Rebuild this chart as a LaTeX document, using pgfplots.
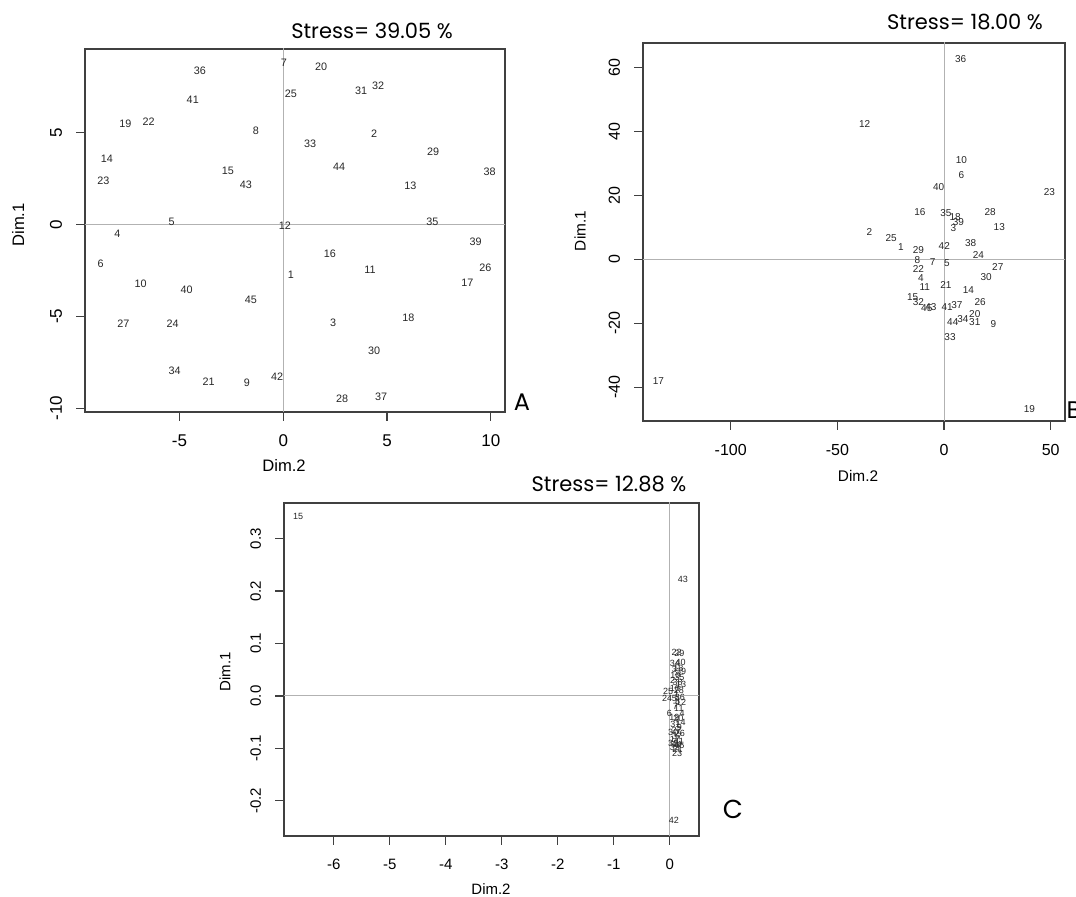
\documentclass[border=0pt]{standalone}
\usepackage{fontspec}
\setmainfont{Liberation Sans}
\newfontfamily\gothic{Poppins}
\usepackage{pgfplots}
\pgfplotsset{compat=1.18}

% page = 1076 x 897 px at 0.5pt per px
\pgfplotsset{
  mds/.style={
    scale only axis,
    axis line style={draw=black!75, line width=0.65pt},
    tick align=outside,
    major tick length=4.5pt,
    every tick/.style={draw=black!75, line width=0.6pt},
    xtick pos=left, ytick pos=left,
    /pgf/number format/assume math mode=true,
    xticklabel style={anchor=north},
    yticklabel style={rotate=90, anchor=south},
    xticklabel shift=3.5pt, yticklabel shift=3.5pt,
  },
  lbl/.style={
    only marks, mark=*, mark size=0pt, mark options={draw=none, fill=none},
    point meta=explicit symbolic,
    nodes near coords, nodes near coords align=center,
    every node near coord/.append style={font=#1, inner sep=0pt, text=black!85},
  },
  zero/.style={black!30, line width=0.5pt, forget plot},
}

\begin{document}
\begin{tikzpicture}

% ---------------- A ----------------
\begin{axis}[mds,
    at={(42.5pt,242.5pt)}, anchor=south west,
    width=210pt, height=181.5pt,
    xmin=-9.55, xmax=10.68, ymin=-10.2, ymax=9.53,
    xtick={-5,0,5,10}, ytick={-10,-5,0,5},
    ticklabel style={font=\fontsize{8.5}{10}\selectfont},
]
\addplot[zero] coordinates {(0,-20)(0,20)};
\addplot[zero] coordinates {(-20,0)(20,0)};
\addplot[lbl={\fontsize{5.4}{6}\selectfont}] table[meta=l] {
x y l
-4.02 8.33 36
0.03 8.77 7
1.82 8.55 20
0.37 7.08 25
3.75 7.24 31
4.57 7.52 32
-4.36 6.75 41
-7.60 5.44 19
-6.49 5.55 22
-1.32 5.10 8
4.38 4.90 2
1.29 4.36 33
7.22 3.93 29
-2.67 2.90 15
2.69 3.11 44
-8.50 3.55 14
-1.80 2.14 43
-8.66 2.35 23
9.94 2.84 38
6.12 2.08 13
-5.38 0.12 5
0.08 -0.05 12
7.18 0.12 35
-7.99 -0.53 4
9.26 -0.96 39
2.25 -1.62 16
-8.80 -2.16 6
0.37 -2.76 1
4.18 -2.48 11
9.74 -2.38 26
8.87 -3.20 17
-6.87 -3.24 10
-4.65 -3.57 40
-1.56 -4.11 45
6.03 -5.10 18
-7.70 -5.40 27
-5.33 -5.40 24
2.40 -5.36 3
4.38 -6.88 30
-5.23 -7.95 34
-3.59 -8.55 21
-1.75 -8.60 9
-0.30 -8.29 42
2.83 -9.49 28
4.71 -9.39 37
};
\end{axis}

% ---------------- B ----------------
\begin{axis}[mds,
    at={(321.5pt,238pt)}, anchor=south west,
    width=211pt, height=189pt,
    xmin=-141.1, xmax=56.7, ymin=-50.5, ymax=67.6,
    xtick={-100,-50,0,50}, ytick={-40,-20,0,20,40,60},
    ticklabel style={font=\fontsize{8}{10}\selectfont},
]
\addplot[zero] coordinates {(0,-100)(0,100)};
\addplot[zero] coordinates {(-200,0)(100,0)};
\addplot[lbl={\fontsize{5}{6}\selectfont}] table[meta=l] {
x y l
7.8 62.7 36
-37.2 42.2 12
8.1 31.0 10
8.1 26.4 6
-2.5 22.7 40
49.4 20.9 23
-11.3 14.7 16
0.9 14.4 35
5.2 13.1 18
6.7 11.6 39
4.4 9.7 3
21.6 14.9 28
25.9 10.1 13
-35.0 8.6 2
-24.8 6.6 25
-20.2 3.9 1
-12.0 2.9 29
0.1 4.3 42
12.5 5.0 38
16.1 1.25 24
-12.5 -0.2 8
-5.3 -0.75 7
1.3 -1.25 5
-12.0 -3.0 22
25.2 -2.5 27
19.7 -5.4 30
-10.9 -5.75 4
0.9 -8.0 21
-9.0 -8.75 11
11.4 -9.6 14
-14.7 -11.9 15
-12.0 -13.4 32
16.9 -13.25 26
-6.2 -14.8 43
-8.1 -15.3 45
1.5 -14.8 41
6.0 -14.3 37
14.4 -17.1 20
8.8 -18.75 34
14.4 -19.5 31
4.1 -19.7 44
23.1 -20.3 9
2.8 -24.2 33
40.0 -46.7 19
-133.9 -38.0 17
};
\end{axis}

% ---------------- C ----------------
\begin{axis}[mds,
    at={(142pt,30.5pt)}, anchor=south west,
    width=207.5pt, height=166.5pt,
    xmin=-6.89, xmax=0.52, ymin=-0.267, ymax=0.368,
    xtick={-6,-5,-4,-3,-2,-1,0}, ytick={-0.2,-0.1,0,0.1,0.2,0.3},
    ticklabel style={font=\fontsize{7.5}{9}\selectfont},
    yticklabel style={/pgf/number format/.cd, fixed, fixed zerofill, precision=1},
]
\addplot[zero] coordinates {(0,-1)(0,1)};
\addplot[zero] coordinates {(-10,0)(2,0)};
\addplot[lbl={\fontsize{4.5}{5}\selectfont}] table[meta=l] {
x y l
-6.64 0.343 15
0.23 0.223 43
0.07 -0.238 42
0.13 -0.110 23
0.12 0.083 22
0.17 0.081 29
0.09 0.062 34
0.19 0.064 40
0.08 0.050 3
0.15 0.052 18
0.20 0.047 39
0.10 0.040 10
0.17 0.036 35
0.05 0.030 2
0.14 0.025 38
0.20 0.022 13
0.09 0.015 16
0.16 0.011 28
-0.03 0.008 25
0.12 0.003 1
0.18 -0.002 36
-0.05 -0.005 24
0.08 -0.004 5
0.14 -0.010 8
0.20 -0.012 12
0.10 -0.020 7
0.16 -0.024 11
-0.01 -0.034 6
0.22 -0.033 4
0.08 -0.040 19
0.15 -0.042 20
0.19 -0.050 14
0.10 -0.055 31
0.17 -0.060 9
0.12 -0.066 27
0.06 -0.070 30
0.18 -0.072 26
0.13 -0.078 37
0.09 -0.083 17
0.16 -0.086 41
0.06 -0.090 32
0.12 -0.092 44
0.17 -0.095 45
0.09 -0.099 33
0.14 -0.102 21
};
\end{axis}

% titles, axis names and panel letters
\node[font=\gothic\fontsize{10.5}{12}\selectfont] at (186pt,433pt) {Stress= 39.05 \%};
\node[font=\gothic\fontsize{10.5}{12}\selectfont] at (482.5pt,437.5pt) {Stress= 18.00 \%};
\node[font=\gothic\fontsize{10.5}{12}\selectfont] at (304.5pt,206.5pt) {Stress= 12.88 \%};
\node[font=\gothic\fontsize{12}{14}\selectfont] at (261pt,247.5pt) {A};
\node[font=\gothic\fontsize{12}{14}\selectfont] at (537pt,243.5pt) {B};
\node[font=\gothic\fontsize{13}{15}\selectfont] at (366.5pt,44pt) {C};

\node[font=\fontsize{8.3}{10}\selectfont, rotate=90] at (9pt,336pt) {Dim.1};
\node[font=\fontsize{8.3}{10}\selectfont] at (142pt,215.5pt) {Dim.2};
\node[font=\fontsize{7.7}{9}\selectfont, rotate=90] at (290pt,333pt) {Dim.1};
\node[font=\fontsize{7.7}{9}\selectfont] at (429pt,210.5pt) {Dim.2};
\node[font=\fontsize{7.5}{9}\selectfont, rotate=90] at (112.5pt,112.5pt) {Dim.1};
\node[font=\fontsize{7.5}{9}\selectfont] at (245.5pt,4pt) {Dim.2};

\pgfresetboundingbox
\path[use as bounding box] (0,0) rectangle (538pt,448.5pt);
\end{tikzpicture}
\end{document}
